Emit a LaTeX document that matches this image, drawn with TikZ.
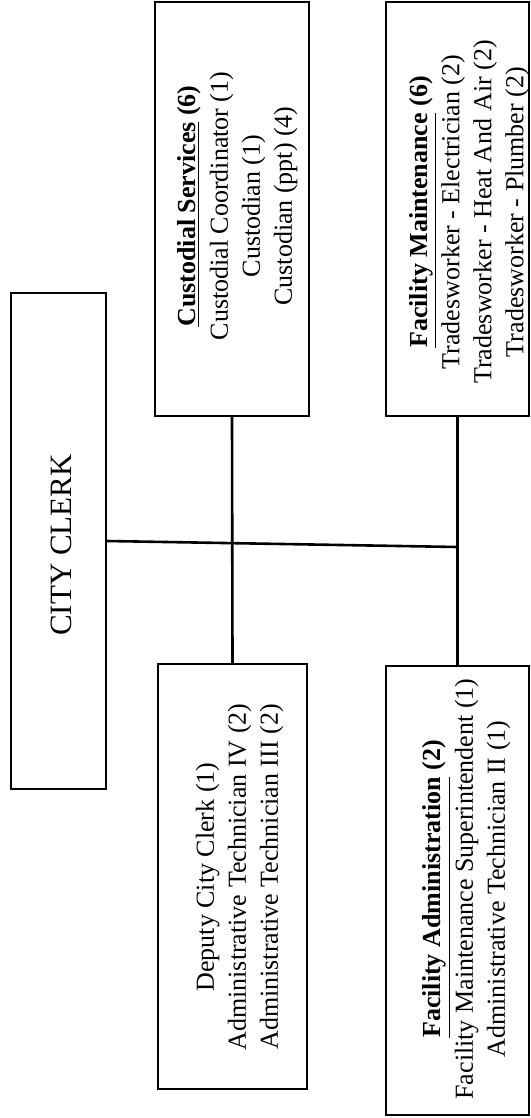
\documentclass[tikz,border=0pt]{standalone}
\usepackage{fontspec}
\setmainfont{Liberation Serif}
\def\bodysize{\fontsize{13}{16}\selectfont}
\def\headsize{\fontsize{15.5}{18}\selectfont}

\begin{document}
\begin{tikzpicture}[x=0.5pt, y=-0.5pt]
    \tikzstyle{unit}=[draw, line width=1pt, inner sep=0pt]
    \tikzstyle{unit text}=[rotate=90, align=center, inner sep=0pt, font=\bodysize]
    \tikzstyle{link}=[line width=1.3pt]

    \useasboundingbox (0,0) rectangle (530,1118);

    % Draw the boxes
    \node[unit, minimum width=47.5pt, minimum height=248pt] (clerk) at (58.5,541) {};
    \node[unit, minimum width=77pt, minimum height=207pt] (cust) at (232,209) {};
    \node[unit, minimum width=71.5pt, minimum height=207pt] (maint) at (457.5,209) {};
    \node[unit, minimum width=74.5pt, minimum height=212.5pt] (dep) at (232.5,876.5) {};
    \node[unit, minimum width=71.5pt, minimum height=224.5pt] (admin) at (457.5,890.5) {};

    % Draw the texts
    \node[unit text, font=\headsize] (clerk-t) at (61.5,545) {CITY CLERK};
    \node[unit text] (cust-t) at (237.5,206)
        {\underline{\textbf{Custodial Services}} \textbf{(6)}\\
         Custodial Coordinator (1)\\ Custodian (1)\\ Custodian (ppt) (4)};
    \node[unit text] (maint-t) at (469,212)
        {\underline{\textbf{Facility Maintenance}} \textbf{(6)}\\
         Tradesworker - Electrician (2)\\ Tradesworker - Heat And Air (2)\\
         Tradesworker - Plumber (2)};
    \node[unit text] (dep-t) at (239.5,877)
        {Deputy City Clerk (1)\\ Administrative Technician IV (2)\\
         Administrative Technician III (2)};
    \node[unit text] (admin-t) at (466.5,889)
        {\underline{\textbf{Facility Administration}} \textbf{(2)}\\
         Facility Maintenance Superintendent (1)\\ Administrative Technician II (1)};

    % Draw the lines
    \coordinate (tee) at (457.5,547);
    \draw[link] (cust.south) -- (dep.north);
    \draw[link] (maint.south) -- (admin.north);
    \draw[link] (clerk.east) -- (tee);
\end{tikzpicture}
\end{document}
